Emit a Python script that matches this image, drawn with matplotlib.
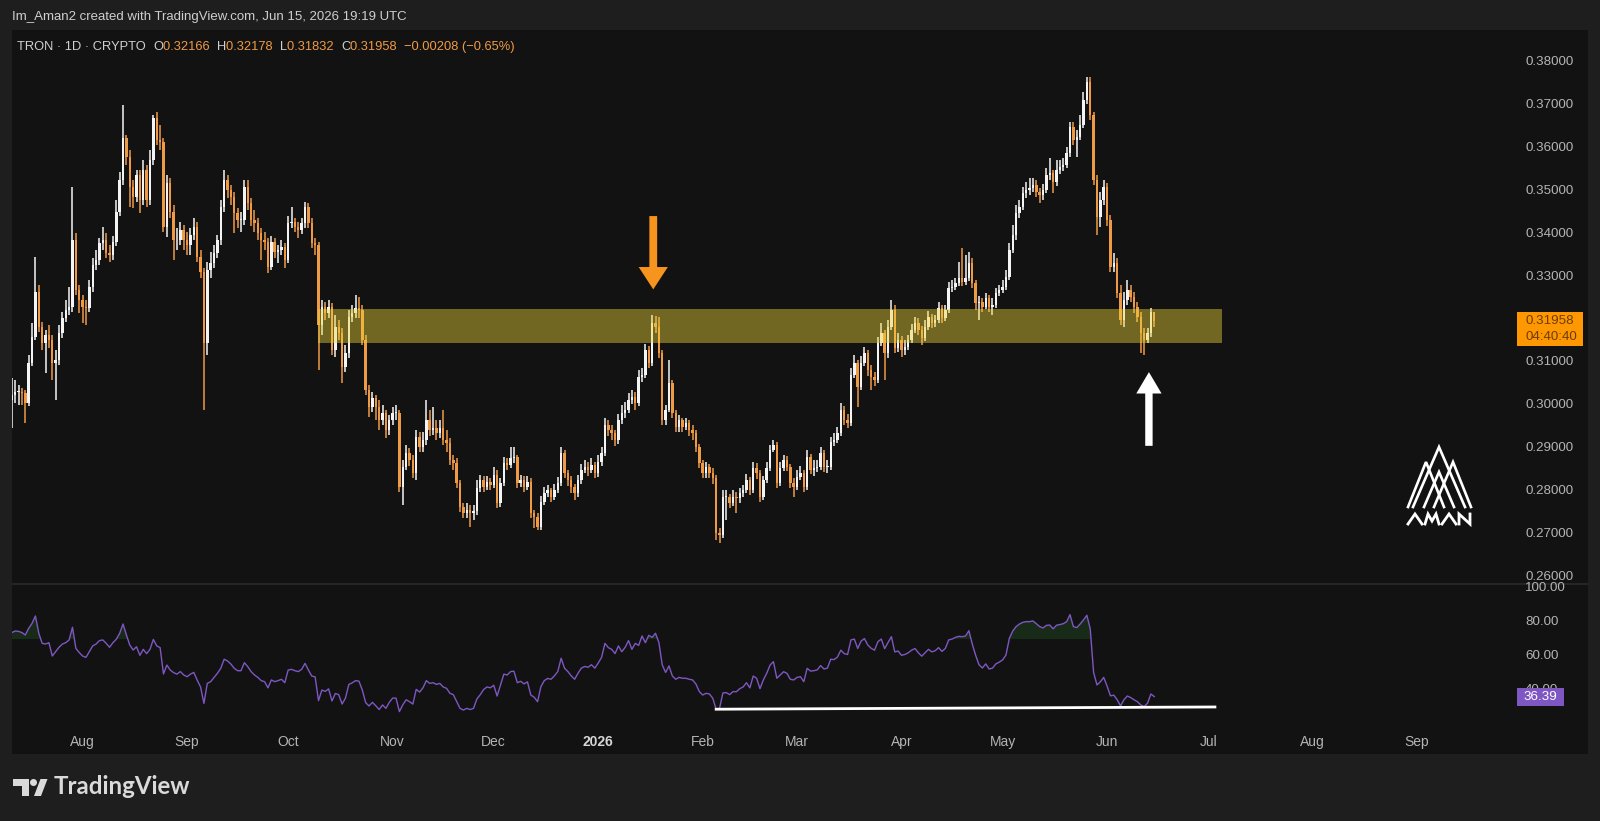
import numpy as np
import pandas as pd
import matplotlib
matplotlib.use('Agg')
import matplotlib.pyplot as plt
import matplotlib.dates as mdates
from matplotlib.patches import Rectangle, Polygon, Circle

# --- daily TRON candles, 11 Jul 2025 .. 15 Jun 2026 ---
dates = pd.date_range('2025-07-11', '2026-06-15', freq='D')
first_open = 0.3012

closes = [
    0.3024, 0.3031, 0.3031, 0.3028, 0.3005, 0.3098, 0.3159, 0.3264, 0.3182, 0.3145,
    0.3164, 0.3152, 0.3098, 0.3105, 0.3168, 0.3203, 0.3222, 0.3229, 0.3385, 0.3269,
    0.3245, 0.3229, 0.3227, 0.3276, 0.3327, 0.3339, 0.3378, 0.3385, 0.3355, 0.3350,
    0.3381, 0.3451, 0.3525, 0.3623, 0.3579, 0.3509, 0.3486, 0.3537, 0.3479, 0.3549,
    0.3479, 0.3572, 0.3670, 0.3619, 0.3614, 0.3416, 0.3518, 0.3451, 0.3385, 0.3385,
    0.3409, 0.3385, 0.3374, 0.3397, 0.3416, 0.3346, 0.3311, 0.3145, 0.3315, 0.3331,
    0.3355, 0.3385, 0.3462, 0.3525, 0.3502, 0.3486, 0.3448, 0.3432, 0.3432, 0.3509,
    0.3472, 0.3432, 0.3425, 0.3402, 0.3385, 0.3381, 0.3322, 0.3381, 0.3357, 0.3362,
    0.3369, 0.3339, 0.3425, 0.3427, 0.3416, 0.3409, 0.3425, 0.3462, 0.3425, 0.3378,
    0.3374, 0.3187, 0.3229, 0.3215, 0.3229, 0.3129, 0.3182, 0.3168, 0.3089, 0.3122,
    0.3206, 0.3215, 0.3227, 0.3222, 0.3152, 0.3035, 0.2996, 0.3017, 0.2996, 0.2965,
    0.2982, 0.2942, 0.2965, 0.2982, 0.2982, 0.2809, 0.2856, 0.2888, 0.2872, 0.2842,
    0.2926, 0.2902, 0.2919, 0.2965, 0.2942, 0.2947, 0.2935, 0.2947, 0.2919, 0.2912,
    0.2872, 0.2865, 0.2818, 0.2762, 0.2748, 0.2755, 0.2748, 0.2753, 0.2807, 0.2825,
    0.2809, 0.2821, 0.2814, 0.2837, 0.2772, 0.2818, 0.2865, 0.2860, 0.2877, 0.2879,
    0.2818, 0.2825, 0.2809, 0.2821, 0.2748, 0.2739, 0.2716, 0.2774, 0.2795, 0.2802,
    0.2786, 0.2802, 0.2818, 0.2888, 0.2842, 0.2825, 0.2809, 0.2795, 0.2825, 0.2849,
    0.2856, 0.2849, 0.2860, 0.2842, 0.2867, 0.2888, 0.2954, 0.2942, 0.2935, 0.2919,
    0.2965, 0.2982, 0.2989, 0.3012, 0.3019, 0.3005, 0.3066, 0.3070, 0.3129, 0.3098,
    0.3192, 0.3182, 0.3122, 0.2965, 0.2989, 0.3052, 0.2982, 0.2949, 0.2965, 0.2949,
    0.2958, 0.2942, 0.2935, 0.2902, 0.2865, 0.2842, 0.2856, 0.2842, 0.2830, 0.2702,
    0.2697, 0.2786, 0.2786, 0.2772, 0.2786, 0.2783, 0.2795, 0.2802, 0.2825, 0.2802,
    0.2853, 0.2842, 0.2786, 0.2825, 0.2853, 0.2895, 0.2907, 0.2818, 0.2853, 0.2872,
    0.2856, 0.2818, 0.2809, 0.2832, 0.2842, 0.2809, 0.2879, 0.2849, 0.2853, 0.2856,
    0.2888, 0.2856, 0.2856, 0.2914, 0.2919, 0.2935, 0.2989, 0.2965, 0.2958, 0.3070,
    0.3098, 0.3042, 0.3098, 0.3122, 0.3082, 0.3066, 0.3059, 0.3145, 0.3168, 0.3122,
    0.3182, 0.3222, 0.3133, 0.3152, 0.3129, 0.3136, 0.3152, 0.3175, 0.3192, 0.3175,
    0.3157, 0.3182, 0.3206, 0.3192, 0.3199, 0.3227, 0.3203, 0.3222, 0.3273, 0.3276,
    0.3285, 0.3297, 0.3287, 0.3297, 0.3332, 0.3285, 0.3238, 0.3241, 0.3229, 0.3250,
    0.3229, 0.3234, 0.3262, 0.3269, 0.3276, 0.3299, 0.3362, 0.3397, 0.3448, 0.3462,
    0.3495, 0.3502, 0.3507, 0.3514, 0.3497, 0.3490, 0.3502, 0.3537, 0.3542, 0.3521,
    0.3549, 0.3556, 0.3560, 0.3588, 0.3649, 0.3619, 0.3626, 0.3654, 0.3712, 0.3754,
    0.3677, 0.3525, 0.3439, 0.3479, 0.3509, 0.3432, 0.3322, 0.3331, 0.3262, 0.3199,
    0.3245, 0.3269, 0.3252, 0.3229, 0.3206, 0.3168, 0.3152, 0.3168, 0.32166, 0.31958,
]

highs = [
    0.3063, 0.3059, 0.3047, 0.3040, 0.3035, 0.3117, 0.3192, 0.3346, 0.3280, 0.3194,
    0.3175, 0.3187, 0.3164, 0.3129, 0.3187, 0.3217, 0.3245, 0.3276, 0.3509, 0.3402,
    0.3280, 0.3257, 0.3245, 0.3292, 0.3344, 0.3362, 0.3390, 0.3415, 0.3402, 0.3374,
    0.3395, 0.3479, 0.3544, 0.3700, 0.3630, 0.3595, 0.3525, 0.3549, 0.3549, 0.3572,
    0.3560, 0.3595, 0.3677, 0.3684, 0.3654, 0.3623, 0.3537, 0.3530, 0.3467, 0.3413,
    0.3427, 0.3420, 0.3404, 0.3413, 0.3437, 0.3427, 0.3362, 0.3320, 0.3334, 0.3357,
    0.3374, 0.3397, 0.3479, 0.3549, 0.3537, 0.3514, 0.3497, 0.3460, 0.3451, 0.3525,
    0.3525, 0.3483, 0.3455, 0.3437, 0.3413, 0.3404, 0.3390, 0.3395, 0.3390, 0.3374,
    0.3385, 0.3378, 0.3441, 0.3462, 0.3437, 0.3427, 0.3437, 0.3474, 0.3472, 0.3437,
    0.3390, 0.3381, 0.3245, 0.3241, 0.3245, 0.3238, 0.3210, 0.3199, 0.3180, 0.3140,
    0.3222, 0.3234, 0.3257, 0.3252, 0.3234, 0.3164, 0.3047, 0.3031, 0.3024, 0.3012,
    0.3000, 0.2989, 0.2977, 0.2996, 0.3000, 0.2989, 0.2872, 0.2907, 0.2900, 0.2884,
    0.2942, 0.2937, 0.2937, 0.3012, 0.2989, 0.2996, 0.2965, 0.2965, 0.2989, 0.2942,
    0.2924, 0.2884, 0.2877, 0.2825, 0.2772, 0.2772, 0.2767, 0.2767, 0.2825, 0.2837,
    0.2835, 0.2835, 0.2830, 0.2856, 0.2849, 0.2830, 0.2879, 0.2877, 0.2902, 0.2902,
    0.2884, 0.2837, 0.2835, 0.2835, 0.2830, 0.2755, 0.2748, 0.2788, 0.2809, 0.2814,
    0.2807, 0.2816, 0.2832, 0.2902, 0.2895, 0.2849, 0.2835, 0.2816, 0.2837, 0.2863,
    0.2872, 0.2867, 0.2877, 0.2867, 0.2884, 0.2902, 0.2970, 0.2965, 0.2954, 0.2942,
    0.2980, 0.3000, 0.3007, 0.3028, 0.3035, 0.3031, 0.3082, 0.3087, 0.3143, 0.3138,
    0.3210, 0.3208, 0.3206, 0.3129, 0.3000, 0.3105, 0.3059, 0.2989, 0.2977, 0.2970,
    0.2970, 0.2965, 0.2954, 0.2942, 0.2909, 0.2872, 0.2867, 0.2863, 0.2853, 0.2837,
    0.2713, 0.2802, 0.2802, 0.2793, 0.2802, 0.2797, 0.2807, 0.2814, 0.2839, 0.2832,
    0.2867, 0.2865, 0.2849, 0.2835, 0.2867, 0.2907, 0.2919, 0.2914, 0.2867, 0.2884,
    0.2881, 0.2863, 0.2830, 0.2849, 0.2858, 0.2849, 0.2895, 0.2886, 0.2872, 0.2872,
    0.2902, 0.2895, 0.2872, 0.2926, 0.2935, 0.2949, 0.3005, 0.2998, 0.2979, 0.3087,
    0.3117, 0.3105, 0.3115, 0.3136, 0.3129, 0.3094, 0.3077, 0.3159, 0.3192, 0.3175,
    0.3199, 0.3245, 0.3234, 0.3168, 0.3161, 0.3152, 0.3164, 0.3189, 0.3206, 0.3203,
    0.3185, 0.3199, 0.3220, 0.3213, 0.3210, 0.3241, 0.3234, 0.3234, 0.3287, 0.3292,
    0.3297, 0.3334, 0.3367, 0.3350, 0.3357, 0.3343, 0.3292, 0.3255, 0.3250, 0.3262,
    0.3257, 0.3250, 0.3273, 0.3280, 0.3292, 0.3315, 0.3378, 0.3420, 0.3467, 0.3479,
    0.3509, 0.3521, 0.3530, 0.3530, 0.3525, 0.3507, 0.3516, 0.3553, 0.3577, 0.3549,
    0.3572, 0.3572, 0.3577, 0.3602, 0.3661, 0.3661, 0.3642, 0.3677, 0.3730, 0.3766,
    0.3766, 0.3684, 0.3537, 0.3497, 0.3525, 0.3518, 0.3444, 0.3355, 0.3343, 0.3280,
    0.3264, 0.3292, 0.3280, 0.3264, 0.3241, 0.3217, 0.3180, 0.3180, 0.3227, 0.32178,
]

lows = [
    0.2947, 0.3005, 0.3000, 0.3000, 0.2958, 0.2998, 0.3091, 0.3152, 0.3171, 0.3129,
    0.3075, 0.3133, 0.3059, 0.3012, 0.3094, 0.3157, 0.3194, 0.3210, 0.3217, 0.3257,
    0.3215, 0.3192, 0.3187, 0.3217, 0.3264, 0.3315, 0.3327, 0.3362, 0.3343, 0.3334,
    0.3339, 0.3371, 0.3441, 0.3514, 0.3560, 0.3462, 0.3460, 0.3474, 0.3448, 0.3467,
    0.3462, 0.3467, 0.3560, 0.3607, 0.3595, 0.3404, 0.3392, 0.3437, 0.3339, 0.3362,
    0.3374, 0.3362, 0.3350, 0.3350, 0.3385, 0.3334, 0.3297, 0.2989, 0.3117, 0.3297,
    0.3320, 0.3343, 0.3374, 0.3451, 0.3483, 0.3467, 0.3402, 0.3413, 0.3404, 0.3420,
    0.3455, 0.3418, 0.3404, 0.3385, 0.3339, 0.3362, 0.3308, 0.3315, 0.3343, 0.3332,
    0.3350, 0.3320, 0.3332, 0.3413, 0.3404, 0.3390, 0.3399, 0.3413, 0.3413, 0.3367,
    0.3350, 0.3082, 0.3164, 0.3199, 0.3203, 0.3117, 0.3112, 0.3152, 0.3052, 0.3077,
    0.3110, 0.3194, 0.3203, 0.3203, 0.3140, 0.3024, 0.2972, 0.2984, 0.2965, 0.2942,
    0.2954, 0.2924, 0.2930, 0.2954, 0.2965, 0.2797, 0.2767, 0.2849, 0.2858, 0.2830,
    0.2825, 0.2891, 0.2891, 0.2907, 0.2928, 0.2930, 0.2919, 0.2924, 0.2907, 0.2891,
    0.2860, 0.2849, 0.2807, 0.2751, 0.2737, 0.2737, 0.2716, 0.2732, 0.2744, 0.2797,
    0.2797, 0.2802, 0.2802, 0.2807, 0.2760, 0.2762, 0.2811, 0.2849, 0.2853, 0.2865,
    0.2807, 0.2809, 0.2797, 0.2802, 0.2737, 0.2713, 0.2709, 0.2709, 0.2767, 0.2786,
    0.2774, 0.2779, 0.2795, 0.2811, 0.2830, 0.2811, 0.2795, 0.2779, 0.2786, 0.2816,
    0.2842, 0.2835, 0.2842, 0.2830, 0.2832, 0.2858, 0.2881, 0.2928, 0.2919, 0.2905,
    0.2910, 0.2956, 0.2970, 0.2982, 0.3003, 0.2989, 0.2998, 0.3054, 0.3063, 0.3087,
    0.3091, 0.3168, 0.3110, 0.2954, 0.2954, 0.2984, 0.2970, 0.2937, 0.2937, 0.2937,
    0.2942, 0.2928, 0.2919, 0.2891, 0.2853, 0.2830, 0.2830, 0.2830, 0.2816, 0.2685,
    0.2679, 0.2690, 0.2732, 0.2760, 0.2765, 0.2748, 0.2772, 0.2786, 0.2795, 0.2790,
    0.2795, 0.2828, 0.2774, 0.2779, 0.2818, 0.2846, 0.2891, 0.2807, 0.2811, 0.2846,
    0.2846, 0.2807, 0.2786, 0.2802, 0.2825, 0.2797, 0.2802, 0.2839, 0.2835, 0.2844,
    0.2849, 0.2844, 0.2842, 0.2849, 0.2905, 0.2912, 0.2928, 0.2954, 0.2947, 0.2951,
    0.3063, 0.2996, 0.3035, 0.3091, 0.3068, 0.3035, 0.3045, 0.3052, 0.3138, 0.3059,
    0.3110, 0.3175, 0.3122, 0.3124, 0.3112, 0.3117, 0.3129, 0.3145, 0.3168, 0.3164,
    0.3140, 0.3150, 0.3175, 0.3180, 0.3182, 0.3192, 0.3192, 0.3196, 0.3215, 0.3264,
    0.3269, 0.3278, 0.3278, 0.3280, 0.3290, 0.3273, 0.3222, 0.3199, 0.3217, 0.3224,
    0.3217, 0.3210, 0.3227, 0.3255, 0.3262, 0.3269, 0.3292, 0.3355, 0.3385, 0.3437,
    0.3455, 0.3483, 0.3490, 0.3497, 0.3486, 0.3472, 0.3479, 0.3495, 0.3525, 0.3495,
    0.3511, 0.3539, 0.3546, 0.3553, 0.3579, 0.3607, 0.3579, 0.3619, 0.3646, 0.3702,
    0.3665, 0.3514, 0.3397, 0.3416, 0.3467, 0.3418, 0.3311, 0.3311, 0.3250, 0.3187,
    0.3182, 0.3234, 0.3241, 0.3215, 0.3194, 0.3122, 0.3117, 0.3145, 0.3159, 0.31832,
]

# RSI(14) as drawn in the lower pane
rsi = [
    73.8, 74.7, 74.5, 73.8, 72.4, 76.3, 79.2, 83.5, 73.4, 67.5,
    67.1, 67.9, 60.1, 62.7, 65.2, 67.1, 67.9, 69.5, 76.9, 64.6,
    62.1, 60.1, 59.3, 62.6, 66.0, 67.1, 69.1, 69.5, 67.5, 65.2,
    67.9, 69.9, 73.4, 78.8, 72.4, 66.5, 63.6, 65.5, 60.5, 64.0,
    61.5, 64.0, 69.8, 66.0, 65.0, 49.6, 54.8, 51.9, 50.4, 49.5,
    51.0, 49.0, 48.0, 49.5, 50.5, 46.0, 42.0, 32.4, 44.1, 45.1,
    47.6, 50.0, 52.9, 58.2, 57.2, 55.4, 52.9, 51.5, 51.5, 56.2,
    53.9, 51.0, 49.0, 47.6, 45.7, 45.1, 41.5, 46.1, 45.1, 45.7,
    46.5, 44.5, 51.9, 52.3, 51.5, 51.0, 52.3, 55.8, 51.9, 48.4,
    47.9, 34.0, 40.2, 39.4, 40.9, 33.8, 38.2, 37.5, 32.0, 35.5,
    43.5, 44.4, 45.7, 45.4, 40.2, 32.8, 30.9, 33.0, 31.0, 28.8,
    31.5, 29.5, 33.0, 35.5, 35.5, 27.6, 31.5, 34.5, 33.4, 32.0,
    40.6, 39.0, 41.5, 45.7, 44.1, 44.5, 43.5, 44.1, 42.0, 41.2,
    38.3, 37.5, 33.5, 29.5, 28.5, 29.5, 28.8, 29.5, 35.0, 37.5,
    40.5, 42.0, 41.5, 43.0, 36.7, 43.2, 49.5, 49.0, 51.0, 51.2,
    44.5, 45.3, 43.8, 45.0, 37.3, 36.0, 33.4, 42.2, 45.7, 47.0,
    46.5, 48.5, 51.0, 58.8, 53.0, 51.0, 48.5, 46.5, 50.0, 53.0,
    54.0, 53.5, 55.0, 53.0, 56.0, 59.3, 67.5, 65.0, 64.0, 61.5,
    66.0, 62.6, 65.2, 69.1, 64.0, 67.5, 66.3, 71.8, 67.9, 72.2,
    71.0, 73.4, 68.0, 54.9, 50.5, 54.3, 48.4, 46.5, 47.6, 47.1,
    47.1, 46.5, 46.1, 43.7, 39.3, 37.3, 38.3, 37.9, 35.4, 28.9,
    29.5, 38.5, 38.7, 37.5, 39.3, 39.2, 41.0, 42.0, 44.5, 41.5,
    48.4, 47.1, 41.0, 46.1, 50.0, 54.8, 56.8, 47.1, 49.0, 50.9,
    50.0, 46.5, 46.1, 47.6, 48.0, 45.1, 52.9, 51.3, 51.5, 52.0,
    54.5, 52.5, 53.0, 58.2, 58.0, 59.5, 63.5, 61.5, 61.0, 69.5,
    70.0, 64.5, 68.8, 70.3, 66.5, 64.6, 63.5, 68.5, 70.0, 64.4,
    68.0, 71.4, 62.5, 63.0, 60.5, 61.0, 62.0, 63.5, 64.5, 62.0,
    60.0, 62.0, 64.0, 62.5, 63.2, 65.0, 62.8, 64.5, 69.5, 70.0,
    71.0, 71.6, 71.4, 71.8, 74.9, 67.1, 60.5, 55.0, 53.1, 55.5,
    52.5, 53.0, 55.5, 56.5, 57.8, 60.7, 70.4, 74.7, 77.3, 78.8,
    79.8, 80.2, 80.2, 80.6, 79.0, 77.3, 76.5, 78.0, 78.2, 76.0,
    78.1, 78.5, 79.0, 80.2, 84.3, 77.3, 76.7, 78.8, 81.2, 83.9,
    76.0, 50.5, 43.2, 45.0, 47.6, 42.5, 36.8, 37.2, 34.5, 30.9,
    34.5, 36.7, 35.8, 34.5, 33.4, 31.5, 30.5, 32.5, 37.9, 36.39,
]

assert len(closes) == len(highs) == len(lows) == len(rsi) == len(dates)

# annotations (data units)
zone_low, zone_high = 0.3145, 0.3224
zone_start, zone_end = pd.Timestamp('2025-10-09 20:00'), pd.Timestamp('2026-07-05')
down_arrow = (pd.Timestamp('2026-01-17 08:00'), 0.3441, 0.3270)
up_arrow = (pd.Timestamp('2026-06-13 10:00'), 0.2905, 0.3077)
rsi_line = [(pd.Timestamp('2026-02-05'), 29.0), (pd.Timestamp('2026-07-03'), 30.3)]
price_ticks = [0.26, 0.27, 0.28, 0.29, 0.30, 0.31, 0.32, 0.33, 0.34, 0.35, 0.36, 0.37, 0.38]
rsi_ticks = [100, 80, 60, 40]
month_ticks = pd.date_range('2025-08-01', '2026-09-01', freq='MS')

# colours
OUTER = '#1e1e1e'
PANE = '#121212'
UP = '#f4f4f4'
DOWN = '#ef9a45'
TXT = '#b4b4b4'
ORANGE = '#ff9800'
PURPLE = '#7e57c2'

W, H = 1600, 821
SANS = ['Liberation Sans', 'DejaVu Sans']
LAB_X = 1525
LAB_FS = 9.6


def rect(x0, y0, x1, y1):
    return [x0 / W, 1 - y1 / H, (x1 - x0) / W, (y1 - y0) / H]


fig = plt.figure(figsize=(W / 100, H / 100), dpi=100, facecolor=OUTER)

bg = fig.add_axes([0, 0, 1, 1], zorder=0)
bg.set_xlim(0, W)
bg.set_ylim(H, 0)
bg.axis('off')
bg.add_patch(Rectangle((12, 30), 1576, 724, facecolor=PANE, edgecolor='none'))

ax = fig.add_axes(rect(12, 30.6, 1588, 583.7), zorder=2)
axr = fig.add_axes(rect(12, 584, 1588, 730), zorder=2)
over = fig.add_axes([0, 0, 1, 1], zorder=5)
over.set_xlim(0, W)
over.set_ylim(H, 0)
over.axis('off')

view = (pd.Timestamp('2025-07-11 01:10'), pd.Timestamp('2026-10-21 17:00'))
for a in (ax, axr):
    a.set_facecolor('none')
    a.axis('off')
    a.set_xlim(view)
ax.set_ylim(0.25834, 0.38737)
axr.set_ylim(16.84, 102.2)

# candles
o = np.array([first_open] + closes[:-1])
c = np.array(closes)
hi = np.array(highs)
lo = np.array(lows)
col = np.where(c >= o, UP, DOWN)
ax.vlines(dates, lo, hi, colors=col, lw=1.1, zorder=2)
ax.bar(dates, np.maximum(np.abs(c - o), 0.00012), bottom=np.minimum(o, c),
       width=0.72, color=col, linewidth=0, zorder=3)

# support / resistance zone
zs = mdates.date2num(zone_start)
ax.add_patch(Rectangle((zs, zone_low), mdates.date2num(zone_end) - zs, zone_high - zone_low,
                       facecolor='#efd83a', alpha=0.43, edgecolor='none', zorder=4))

# arrows
d, y0, y1 = down_arrow
ax.annotate('', xy=(d, y1), xytext=(d, y0),
            arrowprops=dict(arrowstyle='simple,head_length=1.15,head_width=1.5,tail_width=0.4',
                            color='#f7941d', lw=0, shrinkA=0, shrinkB=0, mutation_scale=14), zorder=6)
d, y0, y1 = up_arrow
ax.annotate('', xy=(d, y1), xytext=(d, y0),
            arrowprops=dict(arrowstyle='simple,head_length=1.1,head_width=1.3,tail_width=0.38',
                            color='white', lw=0, shrinkA=0, shrinkB=0, mutation_scale=14), zorder=6)

# RSI pane
r = np.array(rsi)
axr.fill_between(dates, r, 70, where=r > 70, interpolate=True, color='#2e7d32', alpha=0.24, lw=0)
axr.plot(dates, r, color=PURPLE, lw=1.0)
axr.plot([p[0] for p in rsi_line], [p[1] for p in rsi_line], color='white', lw=2.0)


def px(a, x, y):
    if not isinstance(x, (int, float)):
        x = mdates.date2num(x)
    disp = a.transData.transform((x, y))
    return over.transData.inverted().transform(disp)


# last price label (covers the scale label beneath it)
_, py_last = px(ax, 0.0, closes[-1])
over.add_patch(Rectangle((1517, py_last - 9), 66, 34, facecolor=ORANGE, edgecolor='none', zorder=8))
over.text(LAB_X + 1, py_last, f'{closes[-1]:.5f}', color='#6b3d00', fontsize=LAB_FS, family=SANS,
          va='center', zorder=9)
over.text(LAB_X + 1, py_last + 16, '04:40:40', color='#6b3d00', fontsize=LAB_FS, family=SANS,
          va='center', zorder=9)

# price scale
for t in price_ticks:
    _, yy = px(ax, 0.0, t)
    if py_last - 14 < yy < py_last + 30:
        continue
    over.text(LAB_X, yy, f'{t:.5f}', color=TXT, fontsize=LAB_FS, family=SANS, va='center', ha='left')
for t in rsi_ticks:
    _, yy = px(axr, 0.0, t)
    over.text(LAB_X, yy, f'{t:.2f}', color=TXT, fontsize=LAB_FS, family=SANS, va='center', ha='left')

_, yy = px(axr, 0.0, rsi[-1])
over.add_patch(Rectangle((1517, yy - 9), 47, 18, facecolor=PURPLE, edgecolor='none', zorder=8))
over.text(1540.5, yy, f'{rsi[-1]:.2f}', color='white', fontsize=LAB_FS, family=SANS,
          va='center', ha='center', zorder=9)

# time axis
for m in month_ticks:
    xx, _ = px(axr, m, 50)
    if m.month == 1:
        over.text(xx, 742, str(m.year), color='#d6d6d6', fontsize=10, family=SANS,
                  weight='bold', ha='center', va='center')
    else:
        over.text(xx, 742, m.strftime('%b'), color=TXT, fontsize=10, family=SANS,
                  ha='center', va='center')

# pane separator
over.plot([12, 1588], [584, 584], color='#2a2a2a', lw=1.2)

# header and legend
over.text(12, 17, 'Im_Aman2 created with TradingView.com, Jun 15, 2026 19:19 UTC',
          color='#cfcfcf', fontsize=9.5, family=SANS, va='center')

chg = closes[-1] - closes[-2]
pct = chg / closes[-2] * 100
pieces = [('TRON · 1D · CRYPTO  ', '#cfcfcf'), ('O', '#cfcfcf'), (f'{o[-1]:.5f}  ', DOWN),
          ('H', '#cfcfcf'), (f'{highs[-1]:.5f}  ', DOWN), ('L', '#cfcfcf'),
          (f'{lows[-1]:.5f}  ', DOWN), ('C', '#cfcfcf'), (f'{closes[-1]:.5f}  ', DOWN),
          (f'\u2212{abs(chg):.5f} (\u2212{abs(pct):.2f}%)', DOWN)]
renderer = fig.canvas.get_renderer()
xpos = 17
for s, cc in pieces:
    t = over.text(xpos, 47, s, color=cc, fontsize=9.3, family=SANS, va='center')
    xpos += t.get_window_extent(renderer=renderer).width

# AMAN logo
for pts in [[(1408, 507), (1426, 462), (1444, 507)],
            [(1434, 507), (1453, 462), (1471, 507)],
            [(1413, 507), (1439, 447), (1465, 507)],
            [(1424, 507), (1439, 472), (1454, 507)]]:
    xs, ys = zip(*pts)
    over.plot(xs, ys, color='white', lw=1.9, solid_joinstyle='miter')
for pts in [[(1408, 524), (1415, 514), (1422, 524)],
            [(1425, 524), (1428, 514), (1432, 521), (1436, 514), (1439, 524)],
            [(1442, 524), (1449, 514), (1456, 524)],
            [(1459, 524), (1459, 514), (1470, 524), (1470, 514)]]:
    xs, ys = zip(*pts)
    over.plot(xs, ys, color='white', lw=2.0, solid_joinstyle='miter')

# TradingView logo
LOGO = '#dadada'
over.add_patch(Polygon([(13, 779), (29, 779), (29, 796), (22, 796), (22, 786), (13, 786)],
                       closed=True, facecolor=LOGO, edgecolor='none'))
over.add_patch(Circle((33.5, 782.5), 3.5, facecolor=LOGO, edgecolor='none'))
over.add_patch(Polygon([(34, 796), (40.5, 779), (47.5, 779), (41, 796)],
                       closed=True, facecolor=LOGO, edgecolor='none'))
over.text(54, 787, 'TradingView', color=LOGO, fontsize=17.3, family=['Lato', 'DejaVu Sans'],
          weight='bold', va='center')

fig.savefig('out.png', dpi=100, facecolor=OUTER)
